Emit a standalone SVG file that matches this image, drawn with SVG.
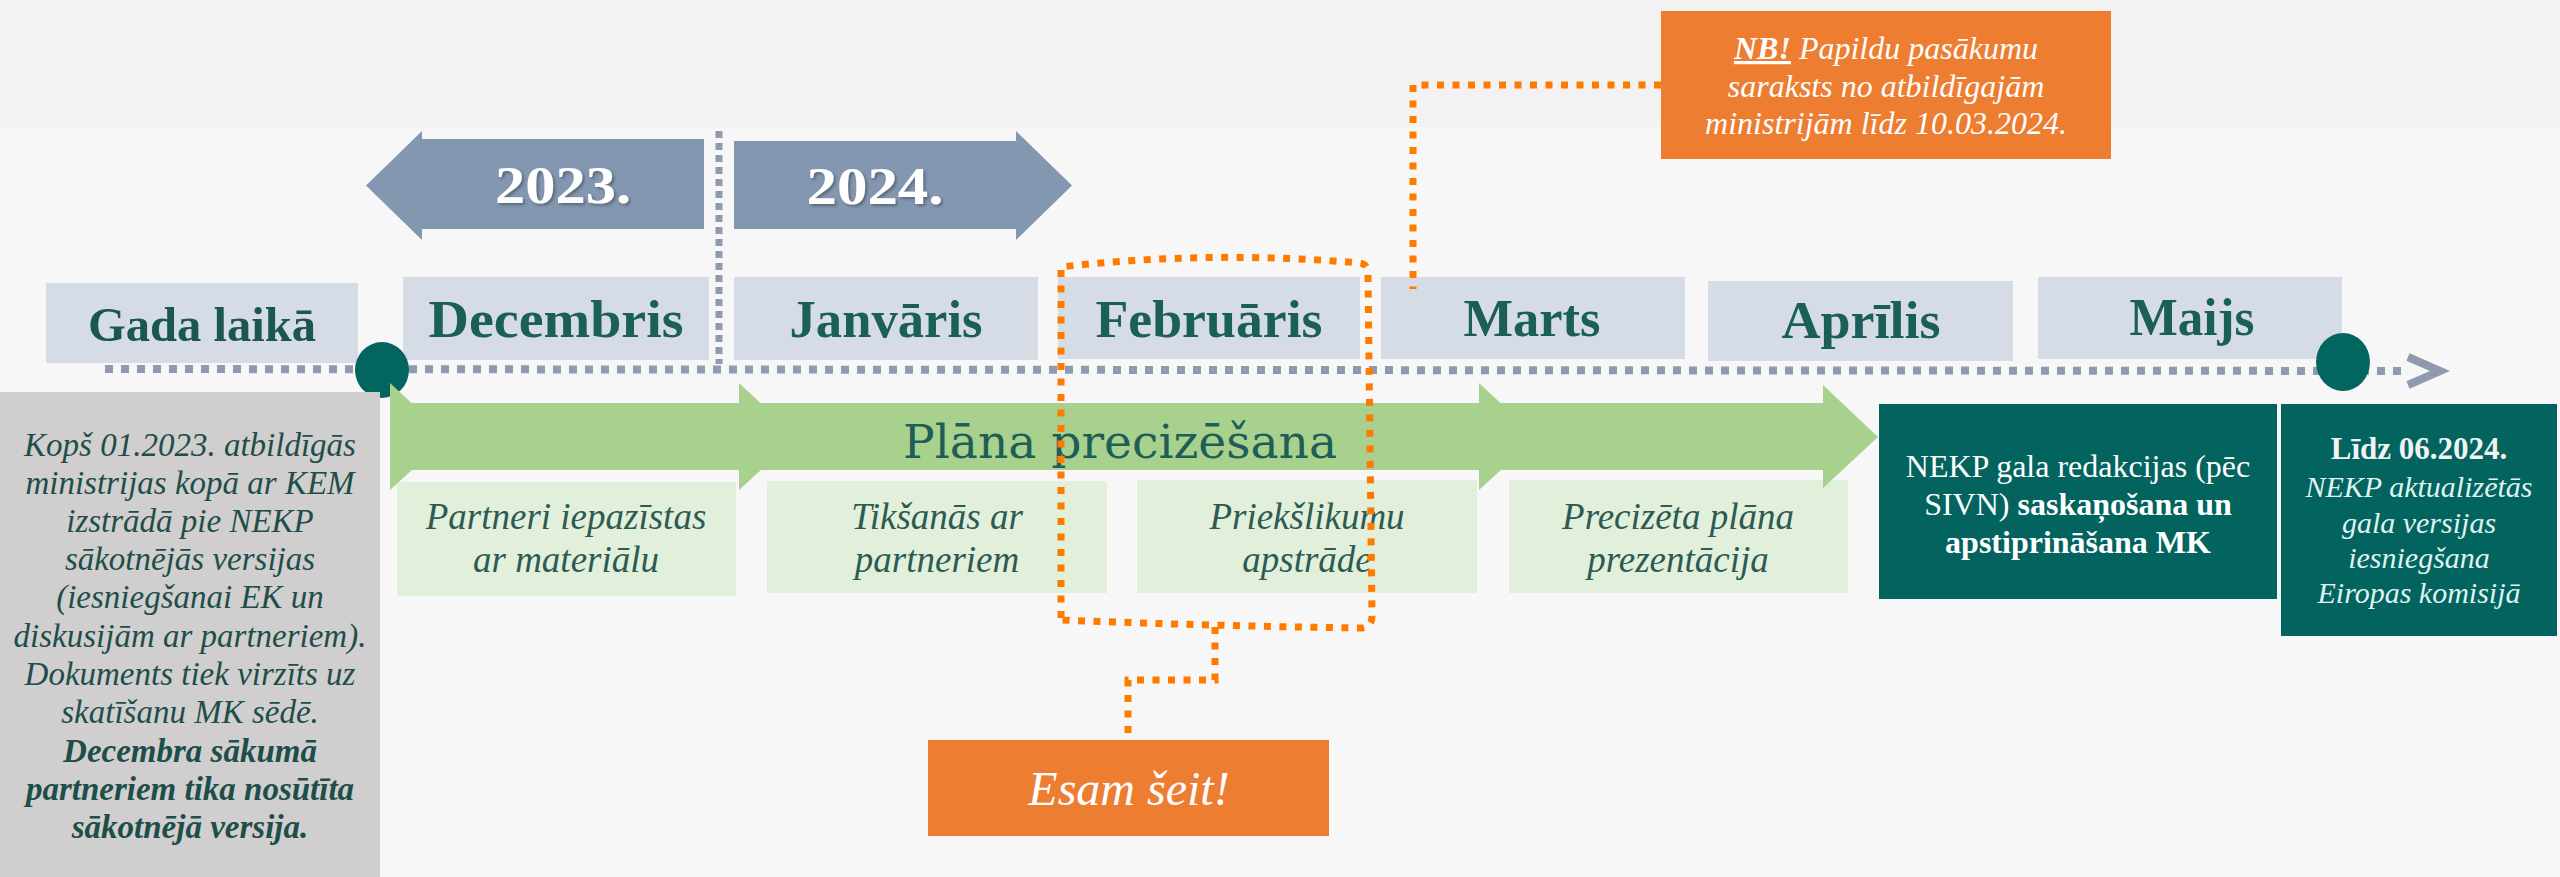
<svg xmlns="http://www.w3.org/2000/svg" width="2560" height="877" viewBox="0 0 2560 877">
<defs>
<filter id="sh" x="-10%" y="-10%" width="120%" height="130%"><feDropShadow dx="2" dy="2" stdDeviation="1.5" flood-color="#3a4657" flood-opacity="0.6"/></filter>
</defs>
<style>
.month{fill:#d6dce5}
.mtxt{font-family:"Liberation Serif",serif;font-weight:bold;font-size:52px;fill:#1a5f59;text-anchor:middle}
.yr{font-family:"Liberation Serif",serif;font-weight:bold;font-size:52px;fill:#ffffff;text-anchor:middle}
.yarrow{fill:#8497b0}
.step{fill:#e2efda}
.stxt{font-family:"Liberation Serif",serif;font-style:italic;font-size:37px;fill:#2b5b52;text-anchor:middle}
.gtxt{font-family:"Liberation Serif",serif;font-style:italic;font-size:33px;fill:#1e4e49;text-anchor:middle}
.dark{fill:#03645f}
.wtxt{font-family:"Liberation Serif",serif;font-size:32px;fill:#ffffff;text-anchor:middle}
.ltxt{font-family:"Liberation Serif",serif;font-size:30px;fill:#dff3f1;text-anchor:middle;font-style:italic}
.otxt{font-family:"Liberation Serif",serif;font-style:italic;font-size:32px;fill:#ffffff;text-anchor:middle}
.orange{fill:#ed7d31}
.odot{fill:none;stroke:#ff7b00;stroke-width:7;stroke-dasharray:7 8.5}
.tl{fill:none;stroke:#8f9aae;stroke-width:8;stroke-dasharray:8 8}
.green{fill:#a9d18e}
.teal{fill:#02655f}
</style>
<rect x="0" y="0" width="2560" height="877" fill="#f7f7f7"/>
<rect x="0" y="0" width="2560" height="127" fill="#f2f2f2"/>

<g id="year-2023">
<path class="yarrow" d="M366,185.5 L422,131 L422,139 L704,139 L704,229 L422,229 L422,240 Z"/>
<text class="yr" x="563" y="203" textLength="136" lengthAdjust="spacingAndGlyphs" filter="url(#sh)">2023.</text>
</g>
<g id="year-2024">
<path class="yarrow" d="M734,141 L1016,141 L1016,131 L1072,185.5 L1016,240 L1016,229 L734,229 Z"/>
<text class="yr" x="875" y="204" textLength="137" lengthAdjust="spacingAndGlyphs" filter="url(#sh)">2024.</text>
</g>
<line x1="719" y1="131" x2="719" y2="364" stroke="#8f9aae" stroke-width="7" stroke-dasharray="7 5"/>

<g id="gada-laika">
<rect class="month" x="46" y="283" width="312" height="80"/>
<text class="mtxt" x="202" y="341" style="font-size:49px;fill:#1b5651" textLength="228" lengthAdjust="spacingAndGlyphs">Gada laikā</text>
</g>
<g id="decembris">
<rect class="month" x="403" y="277" width="306" height="83"/>
<text class="mtxt" x="556" y="337" textLength="255" lengthAdjust="spacingAndGlyphs">Decembris</text>
</g>
<g id="janvaris">
<rect class="month" x="734" y="277" width="304" height="83"/>
<text class="mtxt" x="886" y="337" textLength="193" lengthAdjust="spacingAndGlyphs">Janvāris</text>
</g>
<g id="februaris">
<rect class="month" x="1058" y="277" width="302" height="82"/>
<text class="mtxt" x="1209" y="337" textLength="227" lengthAdjust="spacingAndGlyphs">Februāris</text>
</g>
<g id="marts">
<rect class="month" x="1381" y="277" width="304" height="82"/>
<text class="mtxt" x="1532" y="336" textLength="137" lengthAdjust="spacingAndGlyphs">Marts</text>
</g>
<g id="aprilis">
<rect class="month" x="1708" y="281" width="305" height="80"/>
<text class="mtxt" x="1861" y="338" textLength="159" lengthAdjust="spacingAndGlyphs">Aprīlis</text>
</g>
<g id="maijs">
<rect class="month" x="2038" y="277" width="304" height="82"/>
<text class="mtxt" x="2192" y="335" textLength="125" lengthAdjust="spacingAndGlyphs">Maijs</text>
</g>

<g id="timeline">
<line class="tl" x1="105" y1="369" x2="2404" y2="371"/>
<polyline points="2408,357 2440,371 2408,385" fill="none" stroke="#8f9aae" stroke-width="8"/>
<ellipse class="teal" cx="382" cy="370" rx="27" ry="28"/>
<ellipse class="teal" cx="2343" cy="362" rx="27" ry="29"/>
</g>

<g id="step-1">
<rect class="step" x="397" y="482" width="339" height="114"/>
<text class="stxt" x="566" y="529">Partneri iepazīstas</text>
<text class="stxt" x="566" y="572">ar materiālu</text>
</g>
<g id="step-2">
<rect class="step" x="767" y="481" width="340" height="112"/>
<text class="stxt" x="937" y="529">Tikšanās  ar</text>
<text class="stxt" x="937" y="572">partneriem</text>
</g>
<g id="step-3">
<rect class="step" x="1137" y="480" width="340" height="113"/>
<text class="stxt" x="1307" y="529">Priekšlikumu</text>
<text class="stxt" x="1307" y="572">apstrāde</text>
</g>
<g id="step-4">
<rect class="step" x="1509" y="480" width="339" height="113"/>
<text class="stxt" x="1678" y="529">Precizēta plāna</text>
<text class="stxt" x="1678" y="572">prezentācija</text>
</g>

<g id="plana-precizesana">
<polygon class="green" points="390,383 448,437 390,490"/>
<polygon class="green" points="739,383 797,437 739,490"/>
<polygon class="green" points="1479,383 1537,437 1479,490"/>
<path class="green" d="M390,403 H1823 V385 L1878,437 L1823,488 V470 H390 Z"/>
<text x="1120" y="458" font-family="'DejaVu Serif',serif" font-size="46" fill="#1f5e57" text-anchor="middle" textLength="434" lengthAdjust="spacingAndGlyphs">Plāna precizēšana</text>
</g>

<g id="kops-2023">
<rect x="0" y="392" width="380" height="485" fill="#d0cece"/>
<text class="gtxt" x="190" y="456">Kopš 01.2023. atbildīgās</text>
<text class="gtxt" x="190" y="494">ministrijas kopā ar KEM</text>
<text class="gtxt" x="190" y="532">izstrādā pie NEKP</text>
<text class="gtxt" x="190" y="570">sākotnējās versijas</text>
<text class="gtxt" x="190" y="608">(iesniegšanai EK un</text>
<text class="gtxt" x="190" y="647">diskusijām ar partneriem).</text>
<text class="gtxt" x="190" y="685">Dokuments tiek virzīts uz</text>
<text class="gtxt" x="190" y="723">skatīšanu MK sēdē.</text>
<text class="gtxt" x="190" y="762" font-weight="bold">Decembra sākumā</text>
<text class="gtxt" x="190" y="800" font-weight="bold">partneriem tika nosūtīta</text>
<text class="gtxt" x="190" y="838" font-weight="bold">sākotnējā versija.</text>
</g>

<g id="nekp-gala">
<rect class="dark" x="1879" y="404" width="398" height="195"/>
<text class="wtxt" x="2078" y="477">NEKP gala redakcijas (pēc</text>
<text class="wtxt" x="2078" y="515">SIVN) <tspan font-weight="bold">saskaņošana un</tspan></text>
<text class="wtxt" x="2078" y="553" font-weight="bold">apstiprināšana MK</text>
</g>
<g id="lidz-2024">
<rect class="dark" x="2281" y="404" width="276" height="232"/>
<text class="wtxt" x="2419" y="459" style="font-size:31px;font-weight:bold;fill:#f2f2f2">Līdz 06.2024.</text>
<text class="ltxt" x="2419" y="497">NEKP aktualizētās</text>
<text class="ltxt" x="2419" y="533">gala versijas</text>
<text class="ltxt" x="2419" y="568">iesniegšana</text>
<text class="ltxt" x="2419" y="603">Eiropas komisijā</text>
</g>

<g id="nb-note">
<rect class="orange" x="1661" y="11" width="450" height="148"/>
<text class="otxt" x="1886" y="59"><tspan font-weight="bold" text-decoration="underline">NB!</tspan> Papildu pasākumu</text>
<text class="otxt" x="1886" y="97">saraksts no atbildīgajām</text>
<text class="otxt" x="1886" y="134">ministrijām līdz 10.03.2024.</text>
</g>
<g id="esam-seit">
<rect class="orange" x="928" y="740" width="401" height="96"/>
<text class="otxt" x="1129" y="805" style="font-size:48px">Esam šeit!</text>
</g>

<g id="connectors">
<polyline class="odot" points="1661,85 1413,85 1413,289"/>
<path class="odot" d="M1061,618 L1061,267 Q1210,250 1360,263 Q1368,264 1368,274 L1372,616 Q1372,628 1360,628 Q1210,626 1061,620"/>
<polyline class="odot" points="1215,627 1215,680 1128,680 1128,738"/>
</g>
</svg>
